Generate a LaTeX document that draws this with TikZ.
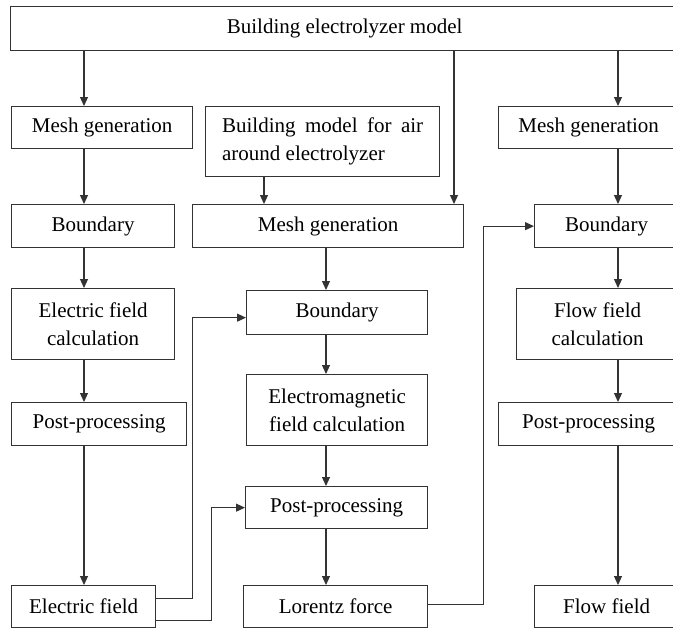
\documentclass[tikz,border=0pt]{standalone}
\usepackage{fontspec}
\setmainfont{Liberation Serif}
\usetikzlibrary{arrows.meta}
\begin{document}
\begin{tikzpicture}[x=1pt,y=-1pt,
  box/.style={draw=black!80, line width=1.3pt, inner sep=0pt, anchor=north west,
    align=center, font=\fontsize{21}{28}\selectfont},
  arr/.style={draw=black!80, line width=1.1pt, -{Triangle[length=9pt,width=8pt]}},
  ln/.style={draw=black!80, line width=1.1pt}]
\useasboundingbox[fill=white] (0,0) rectangle (673,629);
% nodes
\node[box, minimum width=668, minimum height=44] (top) at (10,6) {Building electrolyzer model};
\node[box, minimum width=181, minimum height=42] (m1L) at (11,106) {Mesh generation};
\node[box, minimum width=234, minimum height=70, align=left] (bm) at (205,106)
  {\makebox[201pt][s]{Building model for air}\\around electrolyzer};
\node[box, minimum width=180, minimum height=42] (m1R) at (498,106) {Mesh generation};
\node[box, minimum width=163, minimum height=43] (bL) at (11,204) {Boundary};
\node[box, minimum width=271, minimum height=43] (m2M) at (192,204) {Mesh generation};
\node[box, minimum width=144, minimum height=43] (bR) at (534,204) {Boundary};
\node[box, minimum width=163, minimum height=71] (efc) at (11,288) {Electric field\\calculation};
\node[box, minimum width=181, minimum height=44] (bM) at (246,290) {Boundary};
\node[box, minimum width=162, minimum height=71] (ffc) at (516,288) {Flow field\\calculation};
\node[box, minimum width=175, minimum height=43] (ppL) at (11,402) {Post-processing};
\node[box, minimum width=181, minimum height=71] (emf) at (246,374) {Electromagnetic\\field calculation};
\node[box, minimum width=180, minimum height=43] (ppR) at (498,402) {Post-processing};
\node[box, minimum width=182, minimum height=42] (ppM) at (245,486) {Post-processing};
\node[box, minimum width=144, minimum height=42] (ef) at (11,585) {Electric field};
\node[box, minimum width=184, minimum height=42] (lf) at (243,585) {Lorentz force};
\node[box, minimum width=144, minimum height=42] (ff) at (534,585) {Flow field};
% column guides
\coordinate (cL) at (84,0);
\coordinate (cM) at (326,0);
\coordinate (cR) at (618,0);
\coordinate (cA) at (264,0);
\coordinate (cT) at (454,0);
% left column
\draw[arr] (top.south -| cL) -- (m1L.north -| cL);
\draw[arr] (m1L.south -| cL) -- (bL.north -| cL);
\draw[arr] (bL.south -| cL) -- (efc.north -| cL);
\draw[arr] (efc.south -| cL) -- (ppL.north -| cL);
\draw[arr] (ppL.south -| cL) -- (ef.north -| cL);
% middle column
\draw[arr] (top.south -| cT) -- (m2M.north -| cT);
\draw[arr] (bm.south -| cA) -- (m2M.north -| cA);
\draw[arr] (m2M.south -| cM) -- (bM.north -| cM);
\draw[arr] (bM.south -| cM) -- (emf.north -| cM);
\draw[arr] (emf.south -| cM) -- (ppM.north -| cM);
\draw[arr] (ppM.south -| cM) -- (lf.north -| cM);
% right column
\draw[arr] (top.south -| cR) -- (m1R.north -| cR);
\draw[arr] (m1R.south -| cR) -- (bR.north -| cR);
\draw[arr] (bR.south -| cR) -- (ffc.north -| cR);
\draw[arr] (ffc.south -| cR) -- (ppR.north -| cR);
\draw[arr] (ppR.south -| cR) -- (ff.north -| cR);
% cross connectors
\draw[arr] ([yshift=8pt]ef.east) -- ++(36,0) |- ([yshift=-5pt]bM.west);
\draw[arr] ([yshift=-14pt]ef.east) -- ++(55,0) |- (ppM.west);
\draw[arr] ([yshift=2pt]lf.east) -- ++(55,0) |- (bR.west);
\end{tikzpicture}
\end{document}
